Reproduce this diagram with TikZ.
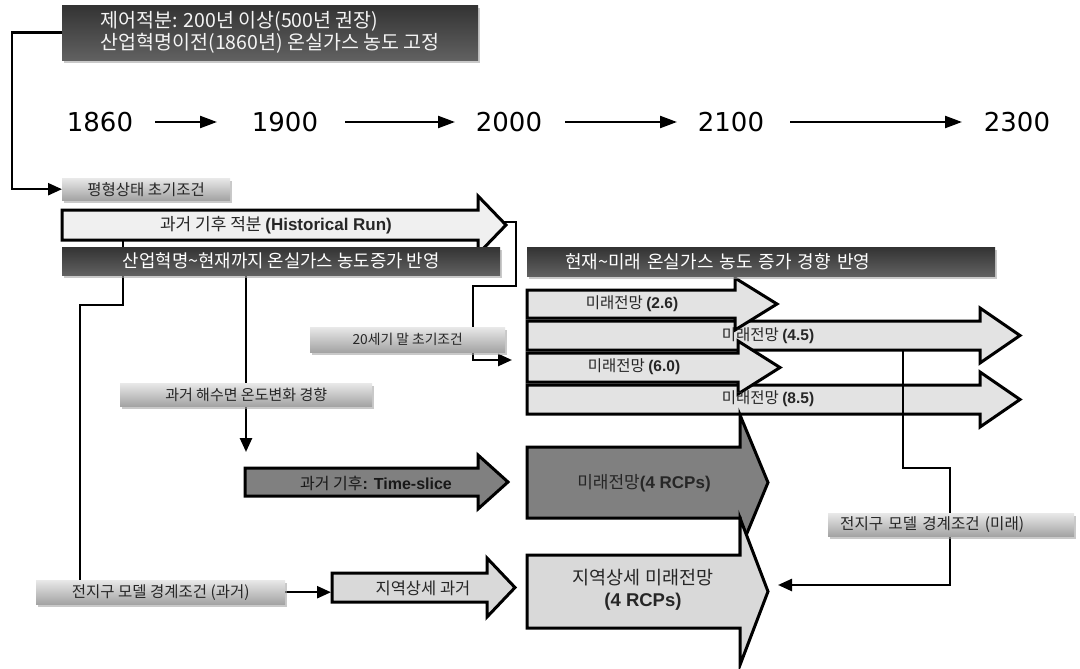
\documentclass[tikz,border=0pt]{standalone}
\usepackage{fontspec}
\setmainfont{Noto Sans CJK KR}
\newfontfamily\latf{Liberation Sans}
\newfontfamily\numf{DejaVu Sans}
\usetikzlibrary{arrows.meta,shadows}
\pgfdeclarelayer{bgfill}
\pgfdeclarelayer{shapes}
\pgfdeclarelayer{lines}
\pgfsetlayers{bgfill,shapes,lines,main}
\newcommand\fs[1]{\fontsize{#1}{#1}\selectfont}
\newcommand\Bf[1]{{\latf\bfseries #1}}
\newcommand\bigarrow[7]{%
  \path[#1] (#2,#4) -- (#3,#4) -- (#3,#4-#6) -- (#7,{(#4+#5)/2}) -- (#3,#5+#6) -- (#3,#5) -- (#2,#5) -- cycle;}
\begin{document}
\begin{tikzpicture}[x=1pt,y=-1pt,
  conn/.style={line width=2.5pt,line join=miter},
  arr/.style={conn,-{Triangle[length=14pt,width=12pt]}},
  tl/.style={line width=2.3pt,-{Triangle[length=17pt,width=12pt]}},
  graybox/.style={anchor=north west,inner sep=0pt,top color=black!9,bottom color=black!36,
     drop shadow={shadow xshift=2pt,shadow yshift=-2.5pt,fill=black!35,opacity=.6},text=black!85},
  darkbar/.style={anchor=north west,inner sep=0pt,top color=black!80,bottom color=black!62,
     drop shadow={shadow xshift=2pt,shadow yshift=-2.5pt,fill=black!35,opacity=.6},text=white},
  outl/.style={draw=black,line width=3pt,line join=miter},
  pale/.style={outl,fill=black!6},
  light/.style={outl,fill=black!11},
  lightb/.style={outl,fill=black!15},
  mid/.style={outl,fill=black!50},
  year/.style={font=\numf\fs{26},inner sep=0pt},
  intext/.style={inner sep=0pt,text=black!85},
]
\begin{pgfonlayer}{bgfill}
\fill[white] (0,0) rectangle (1080,669);
\end{pgfonlayer}
\useasboundingbox (0,0) rectangle (1080,669);

% ---------- big arrows ----------
\begin{pgfonlayer}{shapes}
\bigarrow{pale}{62}{478}{210}{240}{14}{506}
\node[intext,font=\fs{17}] (hr) at (276,225) {과거 기후 적분 \Bf{(Historical Run)}};
\coordinate (hrtip) at (504,222);
\coordinate (hrbot) at (123,240);

\bigarrow{light}{527}{980}{321}{350}{13}{1020}
\bigarrow{light}{527}{980}{385}{414}{13}{1020}
\bigarrow{light}{527}{735}{290}{318}{12}{777}
\bigarrow{light}{527}{738}{353}{382}{12}{780}
\node[intext,font=\fs{15.5}] (f26) at (632,304) {미래전망 \Bf{(2.6)}};
\node[intext,font=\fs{15.5}] (f45) at (768,336) {미래전망 \Bf{(4.5)}};
\node[intext,font=\fs{15.5}] (f60) at (634,367) {미래전망 \Bf{(6.0)}};
\node[intext,font=\fs{15.5}] (f85) at (768,399) {미래전망 \Bf{(8.5)}};
\coordinate (a45bot) at (903,350);
\coordinate (a60in) at (512,360);

\bigarrow{mid}{527}{740}{447}{518}{32}{768}
\bigarrow{lightb}{527}{740}{555}{628}{37}{768}
\node[intext,font=\fs{17}] (rcp) at (644,483) {미래전망\Bf{(4 RCPs)}};
\node[intext,font=\fs{18.5},align=center] (reg) at (643,590) {지역상세 미래전망\\[3pt]\Bf{(4 RCPs)}};
\coordinate (lfutin) at (778,585);

\bigarrow{mid}{245}{478}{468}{496}{13}{508}
\node[inner sep=0pt,text=black!90,font=\fs{16}] (ts) at (376,483) {과거 기후\Bf{: Time-slice}};
\coordinate (tsin) at (246,452);

\bigarrow{lightb}{332}{487}{573}{602}{15}{515}
\node[intext,font=\fs{16.5}] (lp) at (423,588) {지역상세 과거};
\coordinate (lpastin) at (331,590);
\end{pgfonlayer}

% ---------- boxes and bars ----------
\node[darkbar,minimum width=416pt,minimum height=55pt,align=left,text=black!4,
      font=\fontsize{19.5}{22}\selectfont] (ctrl) at (62,5)
      {제어적분: 200년 이상(500년 권장)\\산업혁명이전(1860년) 온실가스 농도 고정};

\node[year] (y1860) at (100,122) {1860};
\node[year] (y1900) at (285,122) {1900};
\node[year] (y2000) at (509,122) {2000};
\node[year] (y2100) at (731,122) {2100};
\node[year] (y2300) at (1017,122) {2300};
\draw[tl] ([xshift=55pt]y1860.center) -- ([xshift=-68pt]y1900.center);
\draw[tl] ([xshift=60pt]y1900.center) -- ([xshift=-54pt]y2000.center);
\draw[tl] ([xshift=56pt]y2000.center) -- ([xshift=-54pt]y2100.center);
\draw[tl] ([xshift=59pt]y2100.center) -- ([xshift=-55pt]y2300.center);

\node[graybox,minimum width=168pt,minimum height=22pt,font=\fs{15.5}] (eq) at (62,178) {평형상태 초기조건};
\node[darkbar,minimum width=438pt,minimum height=28pt,font=\fs{17.8}] (bar1) at (62,247)
      {산업혁명\textasciitilde 현재까지 온실가스 농도증가 반영};
\node[darkbar,minimum width=468pt,minimum height=29pt,text width=392pt,align=left,font=\fs{18}] (bar2) at (527,247)
      {현재\textasciitilde 미래 온실가스 농도 증가 경향 반영};
\node[graybox,minimum width=195pt,minimum height=25pt,font=\fs{13.8}] (ic20) at (310,327) {20세기 말 초기조건};
\node[graybox,minimum width=252pt,minimum height=23pt,font=\fs{15}] (sst) at (120,383) {과거 해수면 온도변화 경향};
\node[graybox,minimum width=249pt,minimum height=24pt,font=\fs{15.5}] (gpast) at (36,580) {전지구 모델 경계조건 (과거)};
\node[graybox,minimum width=246pt,minimum height=23pt,text width=222pt,align=left,font=\fs{15.6}] (gfut) at (828,513) {전지구 모델 경계조건 (미래)};

% ---------- connectors ----------
\begin{pgfonlayer}{lines}
\draw[arr] (ctrl.west) -- ++(-50,0) |- (eq.west);
\draw[arr] (hrtip) -- ++(12,0) -- ++(0,64) -- ++(-43,0) |- (a60in);
\draw[conn] (hrbot) -- ++(0,65) -| ([xshift=44pt]gpast.north west);
\draw[arr] (tsin |- bar1.south) -- (tsin);
\draw[arr] (gpast.east) -- (gpast.east -| lpastin);
\draw[arr] (a45bot) -- ++(0,118) -- ++(47,0) |- (lfutin);
\end{pgfonlayer}
\end{tikzpicture}
\end{document}
